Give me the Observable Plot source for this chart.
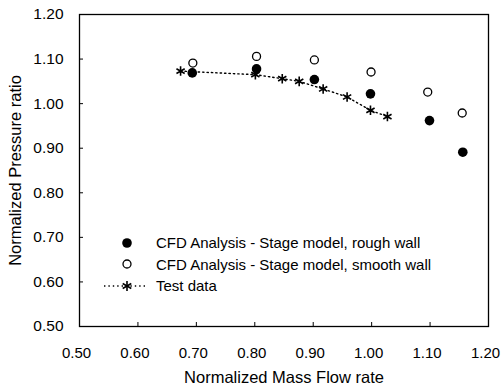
<!DOCTYPE html>
<html>
<head>
<meta charset="utf-8">
<script src="https://cdn.jsdelivr.net/npm/d3@7"></script>
<script src="https://cdn.jsdelivr.net/npm/@observablehq/plot@0.6"></script>
<style>
  html, body { margin: 0; padding: 0; background: #fff; }
  #wrap { position: relative; width: 501px; height: 392px; font-family: "Liberation Sans", Arial, sans-serif; }
  #legend { position: absolute; left: 100px; top: 232px; font-size: 15px; color: #000; }
  #legend .row { display: flex; align-items: center; height: 21.5px; }
  #legend svg { width: 50px; height: 20px; margin-right: 6px; }
</style>
</head>
<body>
<div id="wrap"></div>
<script>
// Data
const roughX = [0.693, 0.803, 0.902, 0.998, 1.099, 1.156];
const roughY = [1.069, 1.078, 1.054, 1.022, 0.962, 0.891];
const smoothX = [0.694, 0.803, 0.902, 0.999, 1.096, 1.155];
const smoothY = [1.091, 1.106, 1.098, 1.071, 1.026, 0.979];
const testX = [0.673, 0.801, 0.847, 0.876, 0.917, 0.958, 0.998, 1.027];
const testY = [1.073, 1.065, 1.056, 1.050, 1.033, 1.015, 0.985, 0.971];
const xTicks = [0.5, 0.6, 0.7, 0.8, 0.9, 1.0, 1.1, 1.2];
const yTicks = [0.5, 0.6, 0.7, 0.8, 0.9, 1.0, 1.1, 1.2];
const legendLabels = [
  "CFD Analysis - Stage model, rough wall",
  "CFD Analysis - Stage model, smooth wall",
  "Test data"
];

const rough = roughX.map((x, i) => ({x, y: roughY[i]}));
const smooth = smoothX.map((x, i) => ({x, y: smoothY[i]}));
const test = testX.map((x, i) => ({x, y: testY[i]}));

const chart = Plot.plot({
  width: 501,
  height: 392,
  marginLeft: 79,
  marginRight: 13,
  marginTop: 14,
  marginBottom: 66,
  style: {fontFamily: "'Liberation Sans', Arial, sans-serif", fontSize: "15px", color: "#000", background: "#fff"},
  x: {domain: [0.5, 1.2]},
  y: {domain: [0.5, 1.2]},
  marks: [
    Plot.frame({stroke: "#000", strokeWidth: 1.3}),
    Plot.axisX({ticks: xTicks, tickSize: -4, tickFormat: () => "", label: null}),
    Plot.axisX({ticks: xTicks, tickFormat: d3.format(".2f"), tickSize: 0, tickPadding: 21, fontSize: 15,
      dx: -3, label: null}),
    Plot.axisX({ticks: [], tickSize: 0, fontSize: 16.5,
      label: "Normalized Mass Flow rate", labelAnchor: "center", labelArrow: "none", labelOffset: 56}),
    Plot.axisY({ticks: yTicks, tickFormat: d3.format(".2f"), tickSize: -4, tickPadding: 20, fontSize: 15.5,
      label: null}),
    Plot.axisY({ticks: [], tickSize: 0, fontSize: 16.5,
      label: "Normalized Pressure ratio", labelAnchor: "center", labelArrow: "none", labelOffset: 70}),
    Plot.line(test, {x: "x", y: "y", stroke: "#000", strokeWidth: 1.4, strokeDasharray: "1.4 3", curve: "linear"}),
    Plot.dot(test, {x: "x", y: "y", symbol: "asterisk", r: 4.5, stroke: "#000", strokeWidth: 1.6}),
    Plot.dot(smooth, {x: "x", y: "y", r: 4, stroke: "#000", strokeWidth: 1.3, fill: "#fff"}),
    Plot.dot(rough, {x: "x", y: "y", r: 4.8, fill: "#000", stroke: "none"})
  ]
});
document.getElementById("wrap").appendChild(chart);

// Legend (HTML overlay)
const legend = document.createElement("div");
legend.id = "legend";
const syms = [
  `<circle cx="27" cy="10" r="4.8" fill="#000"/>`,
  `<circle cx="27" cy="10" r="4" fill="#fff" stroke="#000" stroke-width="1.3"/>`,
  `<line x1="4" y1="10" x2="46" y2="10" stroke="#000" stroke-width="1.4" stroke-dasharray="1.4 3"/>` +
  `<g stroke="#000" stroke-width="1.6"><line x1="27" y1="5" x2="27" y2="15"/><line x1="22.7" y1="7.5" x2="31.3" y2="12.5"/><line x1="22.7" y1="12.5" x2="31.3" y2="7.5"/></g>`
];
legendLabels.forEach((lab, i) => {
  const row = document.createElement("div");
  row.className = "row";
  row.innerHTML = `<svg viewBox="0 0 50 20">${syms[i]}</svg><span>${lab}</span>`;
  legend.appendChild(row);
});
document.getElementById("wrap").appendChild(legend);
</script>
</body>
</html>
